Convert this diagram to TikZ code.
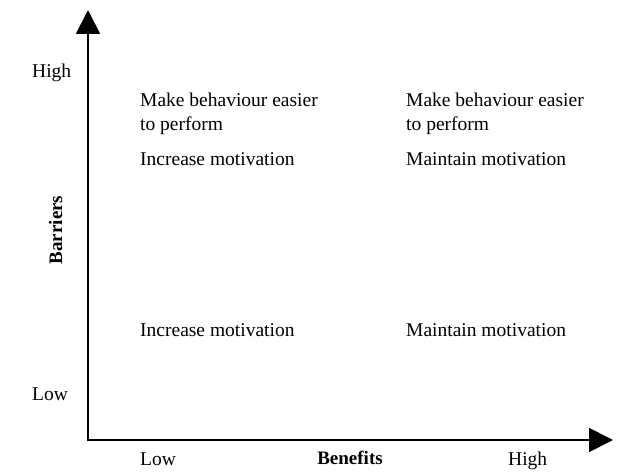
\documentclass[tikz,border=0pt]{standalone}
\usepackage{fontspec}
\setmainfont{Liberation Serif}
\usetikzlibrary{arrows.meta}
\begin{document}
\begin{tikzpicture}[x=1pt,y=-1pt,
  lbl/.style={inner sep=0pt, font=\fontsize{19.5}{22}\selectfont, align=left},
  axis/.style={line width=1.8pt, {Triangle[length=24pt,width=24pt]}-{Triangle[length=24pt,width=24pt]}}]
\useasboundingbox (0,0) rectangle (626,473);
\coordinate (top) at (88,10);
\coordinate (origin) at (88,440);
\coordinate (right) at (613,440);
\draw[axis] (top) -- (origin) -- (right);
% y-axis labels
\node[lbl, anchor=base west] (yhigh) at (32,78) {High};
\node[lbl, anchor=base west] (ylow) at (32,400) {Low};
\node[lbl, anchor=base, rotate=90, font=\fontsize{19}{22}\selectfont\bfseries] (barriers) at (62,230) {Barriers};
% x-axis labels
\node[lbl, anchor=base west] (xlow) at (140,465) {Low};
\node[lbl, anchor=base, font=\fontsize{19}{22}\selectfont\bfseries] (benefits) at (350,464) {Benefits};
\node[lbl, anchor=base west] (xhigh) at (508,465) {High};
% quadrant texts
\node[lbl, anchor=base west] (tl1) at (140,107) {Make behaviour easier};
\node[lbl, anchor=base west] (tl2) at (140,131) {to perform};
\node[lbl, anchor=base west] (tl3) at (140,166) {Increase motivation};
\node[lbl, anchor=base west] (tr1) at (406,107) {Make behaviour easier};
\node[lbl, anchor=base west] (tr2) at (406,131) {to perform};
\node[lbl, anchor=base west] (tr3) at (406,166) {Maintain motivation};
\node[lbl, anchor=base west] (bl) at (140,336) {Increase motivation};
\node[lbl, anchor=base west] (br) at (406,336) {Maintain motivation};
\end{tikzpicture}
\end{document}
